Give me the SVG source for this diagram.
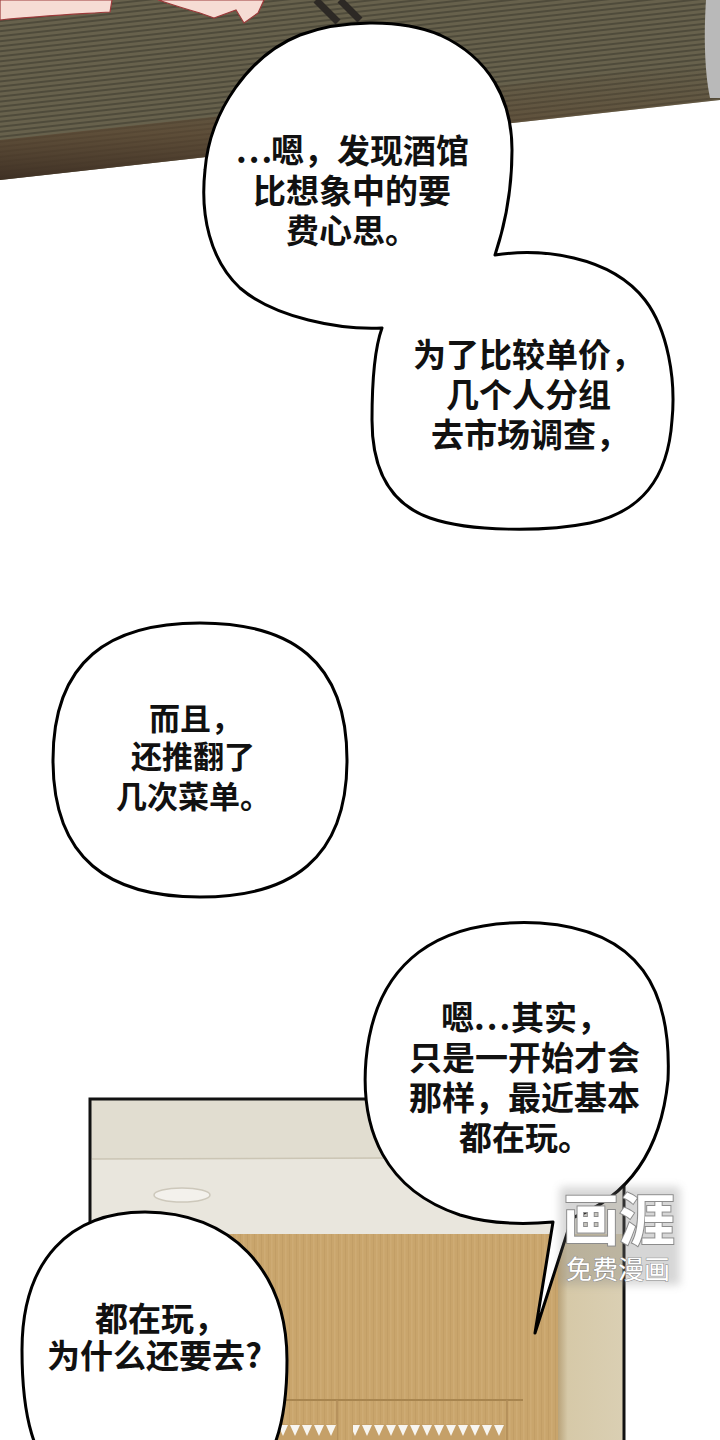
<svg xmlns="http://www.w3.org/2000/svg" width="720" height="1440" viewBox="0 0 720 1440">
<defs>
<style>
.bub{fill:#fff;stroke:#000;stroke-width:3;stroke-linejoin:round}
.t{font-family:"Noto Sans CJK SC","Noto Sans",sans-serif;font-weight:bold;fill:#111}
.t33{font-size:33px}
.t31{font-size:31px}
.wm{font-family:"Noto Sans CJK SC",sans-serif;fill:#fff;stroke:#8c8c8c;paint-order:stroke}
</style>
<pattern id="stripes" width="12" height="5" patternUnits="userSpaceOnUse" patternTransform="rotate(-6.3)">
<rect width="12" height="5" fill="#67614c"/>
<rect width="12" height="2" fill="#4f4b3b"/>
</pattern>
<pattern id="grain" width="7" height="40" patternUnits="userSpaceOnUse">
<rect width="7" height="40" fill="#c9a56c"/>
<rect x="2" width="1" height="40" fill="#c29e66"/>
<rect x="5" width="1.5" height="40" fill="#ceab74"/>
</pattern>
<pattern id="zig" width="12" height="16" patternUnits="userSpaceOnUse" x="265" y="1424">
<rect width="12" height="16" fill="#c5a068"/>
<polygon points="1,1 11,1 6,12" fill="#f7f5f0"/>
</pattern>
<linearGradient id="edge" x1="0" y1="0" x2="0" y2="1">
<stop offset="0" stop-color="#5a4a34" stop-opacity="0"/>
<stop offset="0.6" stop-color="#5a4631" stop-opacity="0.7"/>
<stop offset="1" stop-color="#3e3024" stop-opacity="1"/>
</linearGradient>
<linearGradient id="strip" x1="0" y1="0" x2="1" y2="0">
<stop offset="0" stop-color="#b9a37a"/>
<stop offset="0.15" stop-color="#d6c9a8"/>
<stop offset="1" stop-color="#dacfb3"/>
</linearGradient>
<filter id="blur" x="-20%" y="-20%" width="140%" height="140%"><feGaussianBlur stdDeviation="4"/></filter>
</defs>
<rect width="720" height="1440" fill="#fff"/>

<g id="top-scene">
<polygon points="0,0 720,0 720,100 0,180" fill="url(#stripes)"/>
<polygon points="0,140 720,62 720,100 0,180" fill="url(#edge)"/>
<path d="M706,0 L720,0 L720,98 L710,98 C704,70 704,30 706,0 Z" fill="#b9b9b9"/>
<path d="M0,0 L112,0 L110,12 C80,14 40,16 0,20 Z" fill="#f6dcd4" stroke="#9b3a3a" stroke-width="1.2"/>
<path d="M158,0 L264,0 L258,13 L244,23 L236,10 L214,18 L200,13 C185,9 170,4 158,0 Z" fill="#f6dcd4" stroke="#9b3a3a" stroke-width="1.2"/>
<line x1="316" y1="0" x2="338" y2="22" stroke="#2d2925" stroke-width="7"/>
<line x1="340" y1="0" x2="360" y2="20" stroke="#2d2925" stroke-width="7"/>
</g>

<g id="room-scene">
<rect x="90" y="1099" width="534" height="345" fill="#e9e6dd"/>
<rect x="90" y="1099" width="534" height="60" fill="#e1ddd0"/>
<line x1="92" y1="1159" x2="624" y2="1157" stroke="#cbc5b4" stroke-width="1.5"/>
<ellipse cx="182" cy="1195" rx="28" ry="7" fill="#f3f1ec" stroke="#cdc8bb" stroke-width="1.5"/>
<rect x="92" y="1234" width="466" height="210" fill="url(#grain)"/>
<rect x="558" y="1234" width="65" height="210" fill="url(#strip)"/>
<line x1="283" y1="1400" x2="523" y2="1400" stroke="#a8854f" stroke-width="2"/>
<line x1="337" y1="1400" x2="337" y2="1440" stroke="#b08d58" stroke-width="1.5"/>
<line x1="507" y1="1400" x2="507" y2="1440" stroke="#b08d58" stroke-width="1.5"/>
<rect x="265" y="1424" width="72" height="16" fill="url(#zig)"/>
<rect x="353" y="1424" width="152" height="16" fill="url(#zig)"/>
<rect x="90" y="1099" width="534" height="345" fill="none" stroke="#111" stroke-width="3"/>
</g>

<g id="bubble-ab">
<path class="bub" d="M495,255 C540,248 610,255 645,300 C668,330 676,380 672,420 C668,480 640,512 590,523 C545,532 470,532 430,518 C390,504 372,470 372,420 C372,385 374,350 382,328 C340,330 275,318 240,288 C210,260 200,215 205,170 C210,110 250,55 300,35 C340,20 400,18 440,35 C490,58 512,100 512,150 C512,190 505,225 495,255 Z"/>
<text class="t t33"><tspan x="236" y="163" letter-spacing="2">...</tspan><tspan x="271" y="163">嗯，发现酒馆</tspan></text>
<text class="t t33" x="253" y="203">比想象中的要</text>
<text class="t t33" x="286" y="243">费心思。</text>
<text class="t t33" x="413" y="367">为了比较单价，</text>
<text class="t t33" x="446" y="407">几个人分组</text>
<text class="t t33" x="431" y="447">去市场调查，</text>
</g>

<g id="bubble-c">
<path class="bub" d="M53,760 C53,660 110,623 200,623 C290,623 347,660 347,760 C347,860 290,897 200,897 C110,897 53,860 53,760 Z"/>
<text class="t t31" x="149" y="730">而且，</text>
<text class="t t31" x="131" y="768">还推翻了</text>
<text class="t t31" x="116" y="808">几次菜单。</text>
</g>

<g id="bubble-d">
<path class="bub" d="M553,1222 L535,1333 L572,1218 C620,1200 660,1160 668,1080 C672,990 640,930 540,923 C440,918 375,960 366,1060 C360,1130 385,1190 460,1215 C490,1224 520,1225 553,1222 Z"/>
<text class="t t33"><tspan x="441" y="1030">嗯</tspan><tspan x="474" y="1030" letter-spacing="2">...</tspan><tspan x="511" y="1030">其实，</tspan></text>
<text class="t t33" x="409" y="1070">只是一开始才会</text>
<text class="t t33" x="409" y="1110">那样，最近基本</text>
<text class="t t33" x="459" y="1150">都在玩。</text>
</g>

<g id="bubble-e">
<path class="bub" d="M22,1350 C22,1260 70,1212 145,1212 C230,1212 287,1270 287,1360 C287,1420 275,1460 250,1480 L60,1480 C35,1460 22,1420 22,1350 Z"/>
<text class="t t33" x="95" y="1331">都在玩，</text>
<text class="t t33" x="47" y="1368">为什么还要去?</text>
</g>

<g id="watermark">
<rect x="560" y="1187" width="120" height="98" fill="#7a7a7a" opacity="0.3" filter="url(#blur)"/>
<text class="wm" x="563" y="1240" font-size="56" stroke-width="2" font-weight="bold">画涯</text>
<text class="wm" x="566" y="1279" font-size="26" stroke-width="1">免费漫画</text>
</g>
</svg>
